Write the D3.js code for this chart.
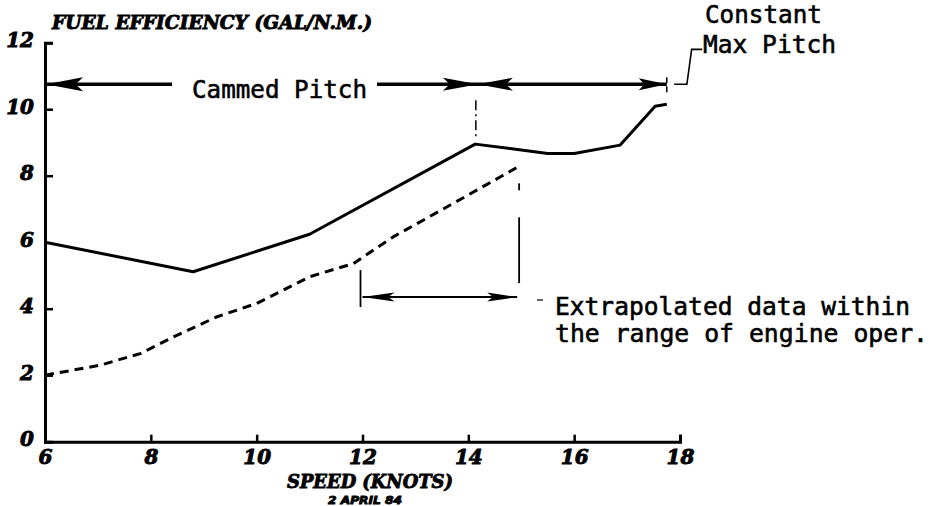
<!DOCTYPE html>
<html>
<head>
<meta charset="utf-8">
<script src="https://cdn.jsdelivr.net/npm/d3@7"></script>
<style>
  html, body { margin: 0; padding: 0; background: #fff; }
  svg { display: block; }
  .serif { font-family: "DejaVu Serif", serif; font-weight: bold; font-style: italic; fill: #000; stroke: #000; stroke-width: 0.9px; }
  .mono { font-family: "DejaVu Sans Mono", monospace; fill: #000; stroke: #000; stroke-width: 0.6px; }
</style>
</head>
<body>
<svg id="chart" width="932" height="506"></svg>
<script>
// Speed (knots) and fuel efficiency (gal/n.m.) for the two curves
const upperSpeed = [6.0, 8.8, 11.0, 14.13, 15.5, 16.0, 16.87, 17.53, 17.75];
const upperFuel  = [6.0, 5.11, 6.24, 8.95, 8.67, 8.67, 8.92, 10.09, 10.15];

const lowerSpeed = [6.0, 7.04, 7.8, 8.49, 9.24, 10.0, 10.19, 11.0, 11.83, 12.58, 13.65, 14.22, 14.6, 15.0];
const lowerFuel  = [2.0, 2.3, 2.65, 3.2, 3.75, 4.16, 4.31, 4.96, 5.36, 6.16, 7.11, 7.62, 7.96, 8.32];

// Axis ticks
const speedTicks = [6, 8, 10, 12, 14, 16, 18];
const fuelTicks  = [0, 2, 4, 6, 8, 10, 12];

// Pitch regimes and the extrapolated range, in knots
const cammedRange = [6.0, 14.18];
const maxPitchRange = [14.18, 17.75];
const extrapolatedRange = [12.0, 14.96];

const svg = d3.select("#chart");
const x = d3.scaleLinear().domain([6, 18]).range([45, 680]);
const y = d3.scaleLinear().domain([0, 12]).range([441.7, 42.7]);

// Axes with inward ticks
const gx = svg.append("g").attr("transform", `translate(0,${y(0)})`)
  .call(d3.axisBottom(x).tickValues(speedTicks).tickSize(-7).tickFormat(d3.format("d")));
const gy = svg.append("g").attr("transform", `translate(${x(6)},0)`)
  .call(d3.axisLeft(y).tickValues(fuelTicks).tickSize(-8).tickFormat(d3.format("d")));

[gx, gy].forEach(g => {
  g.select(".domain").attr("stroke", "#000").attr("stroke-width", 3);
  g.selectAll(".tick line").attr("stroke", "#000").attr("stroke-width", 2.5);
  g.selectAll(".tick text").attr("class", "serif").attr("font-size", 20).attr("fill", "#000");
});
gx.selectAll(".tick text").attr("y", 22).attr("dy", 0);
gy.selectAll(".tick text").attr("x", -11).attr("dy", 0).attr("y", 4).attr("text-anchor", "end");
gy.selectAll(".tick").filter(d => d === 0 || d === 6).select("line").remove();

// Titles
svg.append("text").attr("class", "serif").attr("x", 52).attr("y", 29)
  .attr("font-size", 18).attr("textLength", 320).attr("lengthAdjust", "spacingAndGlyphs")
  .text("FUEL EFFICIENCY (GAL/N.M.)");
svg.append("text").attr("class", "serif").attr("x", 287).attr("y", 488)
  .attr("font-size", 19).attr("textLength", 166).attr("lengthAdjust", "spacingAndGlyphs")
  .text("SPEED (KNOTS)");
svg.append("text").attr("class", "serif").attr("x", 328).attr("y", 504)
  .attr("font-size", 11).attr("textLength", 74).attr("lengthAdjust", "spacingAndGlyphs")
  .style("font-family", "'DejaVu Sans', sans-serif")
  .text("2 APRIL 84");

// Curves
const line = d3.line().x(d => x(d[0])).y(d => y(d[1]));
svg.append("path").datum(d3.zip(upperSpeed, upperFuel))
  .attr("d", line).attr("fill", "none").attr("stroke", "#000")
  .attr("stroke-width", 3).attr("stroke-linejoin", "round");
svg.append("path").datum(d3.zip(lowerSpeed, lowerFuel))
  .attr("d", line).attr("fill", "none").attr("stroke", "#000")
  .attr("stroke-width", 3).attr("stroke-dasharray", "9,6");

// Arrow helpers
function shaft(x1, x2, yy, w) {
  svg.append("line").attr("x1", x1).attr("x2", x2).attr("y1", yy).attr("y2", yy)
    .attr("stroke", "#000").attr("stroke-width", w);
}
function head(tip, yy, dir, len, hw) {
  const b = tip + dir * len, n = tip + dir * len * 0.8;
  svg.append("path")
    .attr("d", `M${tip},${yy} L${b},${yy - hw} L${n},${yy} L${b},${yy + hw} Z`)
    .attr("fill", "#000");
}
function vline(xx, y1, y2, dash, w) {
  svg.append("line").attr("x1", xx).attr("x2", xx).attr("y1", y1).attr("y2", y2)
    .attr("stroke", "#000").attr("stroke-width", w || 1.5)
    .attr("stroke-dasharray", dash || null);
}

// Pitch regime arrows
const ay = y(10.75);
shaft(x(cammedRange[0]), 172, ay, 3.5);
shaft(377, x(maxPitchRange[1]), ay, 3.5);
head(x(cammedRange[0]) + 1, ay, 1, 37, 7);
head(x(cammedRange[1]), ay, -1, 35, 6.5);
head(x(maxPitchRange[0]), ay, 1, 35, 6.5);
head(x(maxPitchRange[1]), ay, -1, 28, 6);
svg.append("text").attr("class", "mono").attr("x", 192).attr("y", 98)
  .attr("font-size", 25).attr("textLength", 175).attr("lengthAdjust", "spacingAndGlyphs")
  .text("Cammed Pitch");

// Regime boundary markers
vline(x(cammedRange[1]) - 2, y(10.27), y(9.07), "10,4,2,4", 1.5);
vline(x(maxPitchRange[1]), y(10.96), y(10.42), "6,3", 1.5);

// Constant max pitch callout
svg.append("path")
  .attr("d", `M${x(17.89)},${ay} L${x(18.13)},${ay} L${x(18.22)},${y(11.8)} L${x(18.42)},${y(11.8)}`)
  .attr("fill", "none").attr("stroke", "#000").attr("stroke-width", 1.6);
svg.append("text").attr("class", "mono").attr("x", 705).attr("y", 23)
  .attr("font-size", 25).attr("textLength", 117).attr("lengthAdjust", "spacingAndGlyphs")
  .text("Constant");
svg.append("text").attr("class", "mono").attr("x", 703).attr("y", 53)
  .attr("font-size", 25).attr("textLength", 133).attr("lengthAdjust", "spacingAndGlyphs")
  .text("Max Pitch");

// Extrapolated range bracket
const ey = y(4.35);
vline(x(extrapolatedRange[0]) - 2, y(5.16), y(4.05), null, 1.8);
vline(x(extrapolatedRange[1]), y(7.77), y(7.56), null, 1.8);
vline(x(extrapolatedRange[1]), y(6.75), y(4.77), null, 1.8);
shaft(x(extrapolatedRange[0]), x(extrapolatedRange[1]) - 2, ey, 2);
head(x(extrapolatedRange[0]), ey, 1, 32, 4.5);
head(x(extrapolatedRange[1]) - 2, ey, -1, 30, 4.5);
svg.append("line").attr("x1", 537).attr("x2", 543).attr("y1", 300).attr("y2", 300)
  .attr("stroke", "#000").attr("stroke-width", 1.2);
svg.append("text").attr("class", "mono").attr("x", 555).attr("y", 315)
  .attr("font-size", 25).attr("textLength", 355).attr("lengthAdjust", "spacingAndGlyphs")
  .text("Extrapolated data within");
svg.append("text").attr("class", "mono").attr("x", 555).attr("y", 342)
  .attr("font-size", 25).attr("textLength", 373).attr("lengthAdjust", "spacingAndGlyphs")
  .text("the range of engine oper.");
</script>
</body>
</html>
